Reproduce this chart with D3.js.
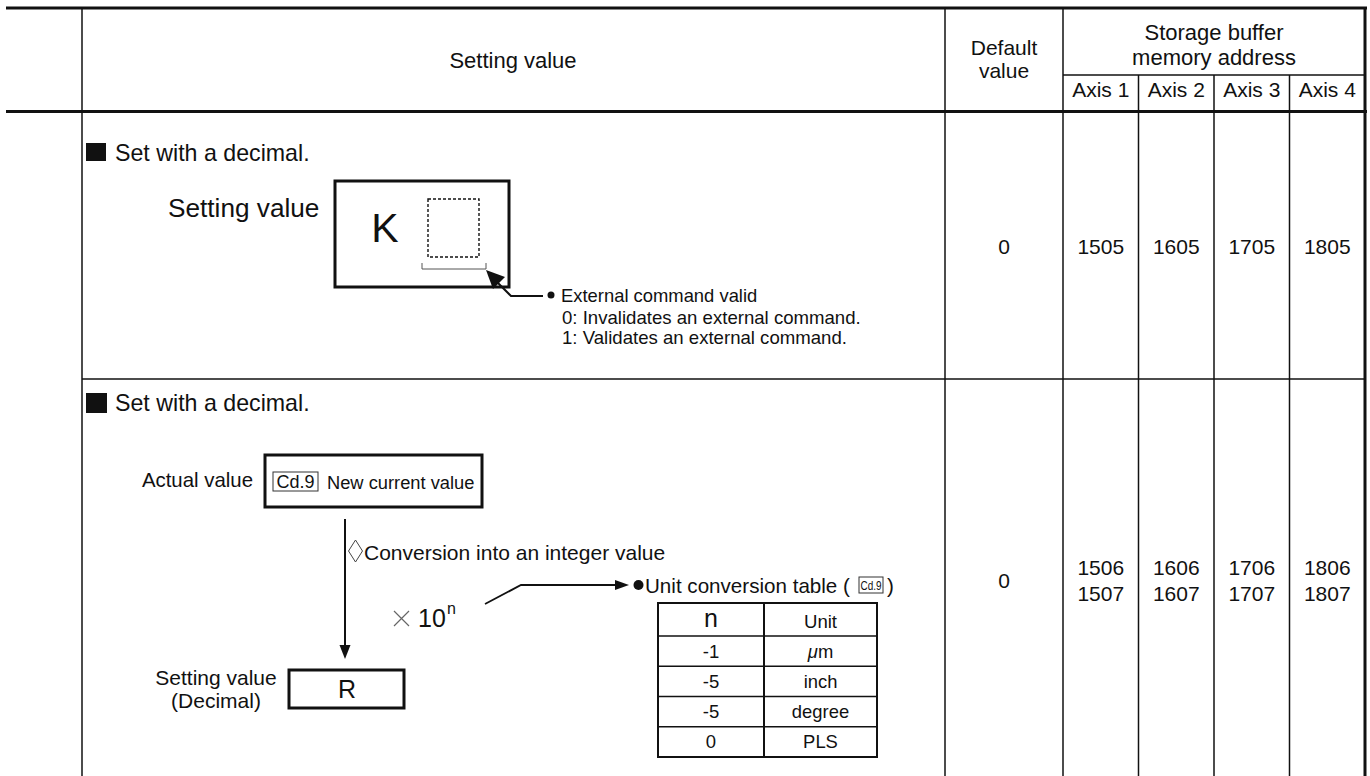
<!DOCTYPE html>
<html><head><meta charset="utf-8">
<script src="https://cdn.jsdelivr.net/npm/d3@7"></script>
<style>html,body{margin:0;padding:0;background:#fff;} svg{display:block;} text{font-family:"Liberation Sans",Arial,Helvetica,sans-serif;fill:#111;}</style>
</head><body>
<svg id="c" width="1370" height="776"></svg>
<script>
// ---- data ----
const axes = ["Axis 1", "Axis 2", "Axis 3", "Axis 4"];
const defaultValues = ["0", "0"];
const row1Addresses = ["1505", "1605", "1705", "1805"];
const row2Addresses = [["1506", "1507"], ["1606", "1607"], ["1706", "1707"], ["1806", "1807"]];
const unitN = ["-1", "-5", "-5", "0"];
const unitNames = ["μm", "inch", "degree", "PLS"];
const externalLines = ["0: Invalidates an external command.", "1: Validates an external command."];

const svg = d3.select("#c");
const ink = "#111";

function line(x1, y1, x2, y2, w, col) {
  svg.append("line").attr("x1", x1).attr("y1", y1).attr("x2", x2).attr("y2", y2)
    .attr("stroke", col || ink).attr("stroke-width", w || 1.5);
}
function txt(x, y, s, size, anchor) {
  return svg.append("text").attr("x", x).attr("y", y).attr("font-size", size)
    .attr("text-anchor", anchor || "middle").attr("dominant-baseline", "central").text(s);
}

// ---- column scale ----
const xAxis = d3.scaleBand().domain(axes).range([1063, 1365]);
const colMid = a => xAxis(a) + xAxis.bandwidth() / 2;

// ---- table grid ----
line(6, 8, 1367, 8, 3);
line(6, 111.5, 1367, 111.5, 3);
line(82, 379, 1365, 379, 1.5);
line(82, 8, 82, 776, 1.5);
line(945, 8, 945, 776, 1.5);
line(1063, 8, 1063, 776, 1.5);
line(1063, 75, 1365, 75, 1.5);
axes.slice(1).forEach(a => line(xAxis(a), 75, xAxis(a), 776, 1.5));
line(1365, 8, 1365, 776, 3);

// ---- header ----
txt(513, 60, "Setting value", 22);
txt(1004, 47, "Default", 21);
txt(1004, 70, "value", 21);
txt(1214, 32, "Storage buffer", 22);
txt(1214, 57, "memory address", 22);
axes.forEach(a => txt(colMid(a), 89, a, 21));

// ---- right-side values ----
defaultValues.forEach((v, i) => txt(1004, i === 0 ? 246 : 580, v, 21));
row1Addresses.forEach((v, i) => txt(colMid(axes[i]), 246, v, 21));
row2Addresses.forEach((pair, i) => {
  txt(colMid(axes[i]), 567, pair[0], 21);
  txt(colMid(axes[i]), 593, pair[1], 21);
});

// ---- Row 1 ----
svg.append("rect").attr("x", 86).attr("y", 143).attr("width", 20).attr("height", 18).attr("fill", ink);
txt(115, 153, "Set with a decimal.", 23.2, "start");
txt(168, 208, "Setting value", 26.2, "start");
svg.append("rect").attr("x", 335).attr("y", 181).attr("width", 174).attr("height", 106)
  .attr("fill", "none").attr("stroke", ink).attr("stroke-width", 3);
txt(385, 228, "K", 41);
svg.append("rect").attr("x", 428).attr("y", 199).attr("width", 51).attr("height", 58)
  .attr("fill", "none").attr("stroke", ink).attr("stroke-width", 1.4).attr("stroke-dasharray", "3,2");
svg.append("path").attr("d", "M422 263 V269 H486 V263").attr("fill", "none").attr("stroke", "#555").attr("stroke-width", 1);
// arrow to bracket
svg.append("path").attr("d", "M498 283 L511 296 L543 296").attr("fill", "none").attr("stroke", ink).attr("stroke-width", 2);
svg.append("path").attr("d", "M486 270 L505 277 L493 289 Z").attr("fill", ink);
svg.append("circle").attr("cx", 551).attr("cy", 295).attr("r", 3.5).attr("fill", ink);
txt(561, 295, "External command valid", 18.4, "start");
externalLines.forEach((s, i) => txt(562, 317 + i * 20, s, 18.6, "start"));

// ---- Row 2 ----
svg.append("rect").attr("x", 86).attr("y", 393).attr("width", 21).attr("height", 20).attr("fill", ink);
txt(115, 403, "Set with a decimal.", 23.2, "start");
txt(253, 480, "Actual value", 20.4, "end");
svg.append("rect").attr("x", 265).attr("y", 455).attr("width", 217).attr("height", 52)
  .attr("fill", "none").attr("stroke", ink).attr("stroke-width", 3);
svg.append("rect").attr("x", 273).attr("y", 472).attr("width", 45).attr("height", 19)
  .attr("fill", "none").attr("stroke", "#333").attr("stroke-width", 1);
txt(295.5, 482, "Cd.9", 18);
txt(327, 482, "New current value", 18.3, "start");
// vertical arrow
line(345, 519, 345, 647, 2);
svg.append("path").attr("d", "M339.5 645 L350.5 645 L345 659 Z").attr("fill", ink);
// diamond + conversion text
svg.append("path").attr("d", "M355.5 540 L362.5 551 L355.5 562 L348.5 551 Z").attr("fill", "none").attr("stroke", "#444").attr("stroke-width", 1);
txt(364, 552, "Conversion into an integer value", 21, "start");
// x 10^n
svg.append("path").attr("d", "M394 611 L409 626 M409 611 L394 626").attr("stroke", "#666").attr("stroke-width", 1.2);
txt(418, 618, "10", 25, "start");
txt(447, 608, "n", 16, "start");
// line to unit table label
svg.append("path").attr("d", "M485 604 L521 585 L618 585").attr("fill", "none").attr("stroke", ink).attr("stroke-width", 1.8);
svg.append("path").attr("d", "M615 580 L629 585 L615 590 Z").attr("fill", ink);
svg.append("circle").attr("cx", 638.5).attr("cy", 585).attr("r", 5).attr("fill", ink);
txt(645, 585, "Unit conversion table (", 20.6, "start");
svg.append("rect").attr("x", 859).attr("y", 577).attr("width", 24).attr("height", 16)
  .attr("fill", "none").attr("stroke", "#333").attr("stroke-width", 1);
txt(871, 585, "Cd.9", 13).attr("textLength", 21).attr("lengthAdjust", "spacingAndGlyphs");
txt(887, 585, ")", 20.6, "start");

// unit table
const utX0 = 658, utXm = 764, utX1 = 877, utTop = 603, utHead = 636, utBot = 757;
const uy = d3.scaleBand().domain(d3.range(unitN.length)).range([utHead, utBot]);
svg.append("rect").attr("x", utX0).attr("y", utTop).attr("width", utX1 - utX0).attr("height", utBot - utTop)
  .attr("fill", "none").attr("stroke", ink).attr("stroke-width", 2);
line(utXm, utTop, utXm, utBot, 2);
line(utX0, utHead, utX1, utHead, 1.5);
unitN.slice(1).forEach((d, i) => line(utX0, uy(i + 1), utX1, uy(i + 1), 1.5));
txt((utX0 + utXm) / 2, 618, "n", 25);
txt((utXm + utX1) / 2, 621, "Unit", 18.6);
unitN.forEach((d, i) => txt((utX0 + utXm) / 2, uy(i) + uy.bandwidth() / 2, d, 18.5));
unitNames.forEach((d, i) => {
  const t = txt((utXm + utX1) / 2, uy(i) + uy.bandwidth() / 2, "", 18.4);
  if (d.startsWith("μ")) {
    t.append("tspan").attr("font-style", "italic").text("μ");
    t.append("tspan").text(d.slice(1));
  } else t.text(d);
});

// setting value (decimal) + R box
txt(216, 677, "Setting value", 21);
txt(216, 700, "(Decimal)", 21);
svg.append("rect").attr("x", 289).attr("y", 670).attr("width", 115).attr("height", 38)
  .attr("fill", "none").attr("stroke", ink).attr("stroke-width", 3);
txt(347, 689, "R", 25);
</script>
</body></html>
